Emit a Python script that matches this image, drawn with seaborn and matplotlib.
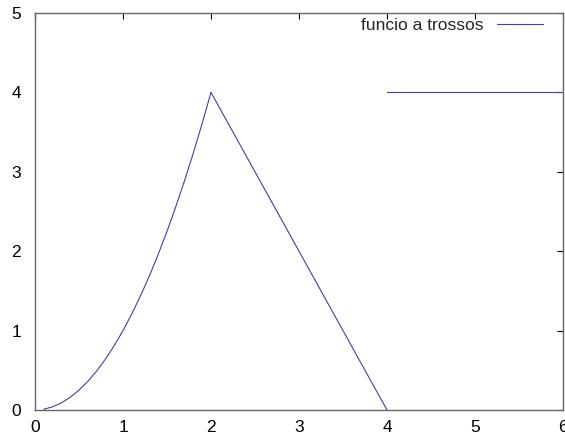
import matplotlib
matplotlib.use("Agg")
import matplotlib.pyplot as plt
import seaborn as sns
import pandas as pd

# Data (three pieces of the piecewise function)
x_piece1 = [0.1, 0.2, 0.3, 0.4, 0.5, 0.6, 0.7, 0.8, 0.9, 1.0,
            1.1, 1.2, 1.3, 1.4, 1.5, 1.6, 1.7, 1.8, 1.9, 2.0]
y_piece1 = [0.01, 0.04, 0.09, 0.16, 0.25, 0.36, 0.49, 0.64, 0.81, 1.0,
            1.21, 1.44, 1.69, 1.96, 2.25, 2.56, 2.89, 3.24, 3.61, 4.0]
x_piece2 = [2.0, 4.0]
y_piece2 = [4.0, 0.0]
x_piece3 = [4.0, 6.0]
y_piece3 = [4.0, 4.0]
series_label = "funcio a trossos"
x_ticks = [0, 1, 2, 3, 4, 5, 6]
y_ticks = [0, 1, 2, 3, 4, 5]

df = pd.DataFrame({
    "x": x_piece1 + x_piece2 + x_piece3,
    "y": y_piece1 + y_piece2 + y_piece3,
    "segment": [1] * len(x_piece1) + [2] * len(x_piece2) + [3] * len(x_piece3),
})

sns.set_style("white")
plt.rcParams["font.family"] = ["Liberation Sans", "DejaVu Sans"]

W, H = 565, 442
fig = plt.figure(figsize=(W / 100, H / 100), dpi=100)
ax = fig.add_axes([35 / W, (H - 410) / H, (563 - 35) / W, (410 - 13) / H])

line_color = "#4040aa"
sns.lineplot(data=df, x="x", y="y", units="segment", estimator=None,
             color=line_color, linewidth=0.8, ax=ax, sort=False, legend=False)

ax.set_xlim(0, 6)
ax.set_ylim(0, 5)
ax.set_xticks(x_ticks)
ax.set_yticks(y_ticks)
ax.set_xlabel("")
ax.set_ylabel("")

for s in ax.spines.values():
    s.set_visible(True)
    s.set_color("#666666")
    s.set_linewidth(1.0)

ax.tick_params(axis="both", direction="in", length=4, width=0.8,
               color="#000000", labelsize=12.5, labelcolor="black",
               top=True, right=True)
ax.tick_params(axis="x", pad=7)
ax.tick_params(axis="y", pad=10)

handle = ax.get_lines()[0]
leg = ax.legend([handle], [series_label], loc="upper right", frameon=False,
                markerfirst=False, fontsize=12.5, handlelength=2.65,
                borderaxespad=0.0, handletextpad=0.8, borderpad=0.0,
                bbox_to_anchor=(508 / 528, 1 - 4.5 / 397))

fig.savefig("out.png", dpi=100)
